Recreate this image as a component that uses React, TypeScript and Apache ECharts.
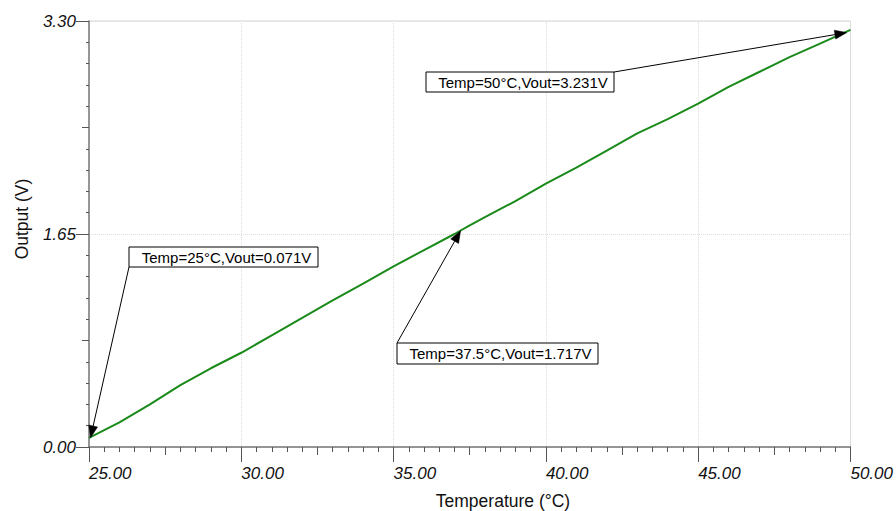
import React, { useEffect, useRef } from "react";
import * as echarts from "echarts";

// Data
const temps = [25, 26, 27, 28, 29, 30, 31, 32, 33, 34, 35, 36, 37, 37.5, 38, 39, 40, 41, 42, 43, 44, 45, 46, 47, 48, 49, 50];
const vout = [0.071, 0.19, 0.33, 0.48, 0.61, 0.73, 0.865, 1.0, 1.135, 1.265, 1.4, 1.525, 1.65, 1.717, 1.78, 1.905, 2.04, 2.165, 2.295, 2.43, 2.54, 2.66, 2.79, 2.905, 3.02, 3.125, 3.231];

const xTitle = "Temperature (°C)";
const yTitle = "Output (V)";

const annTexts = ["Temp=25°C,Vout=0.071V", "Temp=37.5°C,Vout=1.717V", "Temp=50°C,Vout=3.231V"];
const annTips = [[25.05, 0.072], [37.2, 1.675], [49.88, 3.21]];

const FONT = '"Liberation Sans", Arial, sans-serif';

export default function App() {
  const ref = useRef<HTMLDivElement>(null);
  useEffect(() => {
    document.body.style.margin = "0";
    const chart = echarts.init(ref.current!, null, { renderer: "svg" });
    const axisColor = "#7a7a7a";
    const tickColor = "#555";
    const option: any = {
      animation: false,
      backgroundColor: "#fff",
      grid: { left: 89, right: 44, top: 21, bottom: 64, show: true, borderColor: "#d6d6d6", borderWidth: 1 },
      xAxis: [
        {
          type: "value", min: 25, max: 50, interval: 5, position: "bottom",
          axisLine: { show: true, lineStyle: { color: axisColor, width: 1.5 } },
          axisTick: { show: true, length: 15, lineStyle: { color: tickColor } },
          minorTick: { show: true, splitNumber: 10, length: 5, lineStyle: { color: tickColor } },
          axisLabel: {
            formatter: (v: number) => v.toFixed(2), fontSize: 17, fontStyle: "italic", fontFamily: FONT,
            color: "#111", align: "left", margin: 18, showMinLabel: true, showMaxLabel: true, hideOverlap: false,
          },
          splitLine: { show: true, lineStyle: { color: "#dedede", type: "dotted", width: 1 } },
        },
        {
          type: "value", min: 25, max: 50, interval: 2.5, position: "bottom",
          axisLine: { show: false },
          axisTick: { show: true, length: 8, lineStyle: { color: tickColor } },
          axisLabel: { show: false },
          splitLine: { show: false },
        },
      ],
      yAxis: [
        {
          type: "value", min: 0, max: 3.3, interval: 1.65, position: "left",
          axisLine: { show: true, lineStyle: { color: axisColor, width: 1.5 } },
          axisTick: { show: true, length: 13, lineStyle: { color: tickColor } },
          minorTick: { show: true, splitNumber: 10, length: 3, lineStyle: { color: tickColor } },
          axisLabel: {
            formatter: (v: number) => v.toFixed(2), fontSize: 17, fontStyle: "italic", fontFamily: FONT,
            color: "#111", margin: 13, showMinLabel: true, showMaxLabel: true,
          },
          splitLine: { show: true, lineStyle: { color: "#dedede", type: "dotted", width: 1 } },
        },
        {
          type: "value", min: 0, max: 3.3, interval: 0.825, position: "left",
          axisLine: { show: false },
          axisTick: { show: true, length: 7, lineStyle: { color: tickColor } },
          axisLabel: { show: false },
          splitLine: { show: false },
        },
      ],
      series: [
        {
          type: "line",
          xAxisIndex: 0,
          yAxisIndex: 0,
          data: temps.map((t, i) => [t, vout[i]]),
          showSymbol: false,
          lineStyle: { color: "#1a8a1a", width: 2 },
          itemStyle: { color: "#1a8a1a" },
          z: 3,
        },
      ],
    };
    chart.setOption(option);

    // Annotation boxes layout (pixels) and which corner the arrow leaves from
    const boxes = [
      { x: 129, y: 247, w: 189, h: 20, from: "bl" },
      { x: 397, y: 343, w: 201, h: 21, from: "tl" },
      { x: 426, y: 72, w: 188, h: 20, from: "tr" },
    ];
    const graphics: any[] = [];
    annTexts.forEach((txt, i) => {
      const b = boxes[i];
      const tip = chart.convertToPixel({ xAxisIndex: 0, yAxisIndex: 0 }, annTips[i]) as number[];
      const sx = b.from === "tr" ? b.x + b.w : b.x;
      const sy = b.from === "bl" ? b.y + b.h : b.y;
      const dx = tip[0] - sx, dy = tip[1] - sy;
      const len = Math.sqrt(dx * dx + dy * dy);
      const ux = dx / len, uy = dy / len;
      const hl = 12, hw = 4.5;
      const bx = tip[0] - ux * hl, by = tip[1] - uy * hl;
      const px = -uy, py = ux;
      graphics.push({
        type: "line", z: 50,
        shape: { x1: sx, y1: sy, x2: bx, y2: by },
        style: { stroke: "#000", lineWidth: 1 },
      });
      graphics.push({
        type: "polygon", z: 50,
        shape: { points: [[tip[0], tip[1]], [bx + px * hw, by + py * hw], [bx - px * hw, by - py * hw]] },
        style: { fill: "#000", stroke: "#000", lineWidth: 0.5 },
      });
      graphics.push({
        type: "rect", z: 51,
        shape: { x: b.x, y: b.y, width: b.w, height: b.h },
        style: { fill: "#fff", stroke: "#000", lineWidth: 1 },
      });
      graphics.push({
        type: "text", z: 52,
        x: b.x + b.w / 2 + 3, y: b.y + b.h / 2,
        style: { text: txt, fontSize: 15, fontFamily: FONT, fill: "#000", align: "center", verticalAlign: "middle" },
      });
    });
    // Axis titles
    graphics.push({
      type: "text", z: 10, x: 503, y: 501,
      style: { text: xTitle, fontSize: 17.5, fontFamily: FONT, fill: "#111", align: "center", verticalAlign: "middle" },
    });
    graphics.push({
      type: "text", z: 10, x: 22, y: 219, rotation: Math.PI / 2,
      style: { text: yTitle, fontSize: 17.5, fontFamily: FONT, fill: "#111", align: "center", verticalAlign: "middle" },
    });
    chart.setOption({ graphic: graphics });
    return () => chart.dispose();
  }, []);
  return <div ref={ref} style={{ width: 896, height: 511 }} />;
}
